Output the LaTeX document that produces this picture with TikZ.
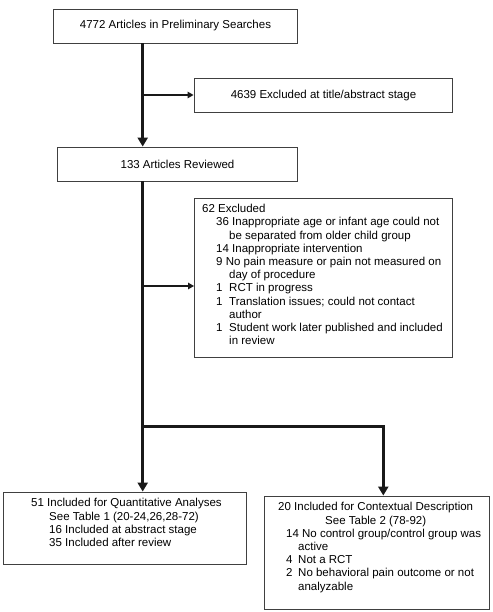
\documentclass[tikz,border=0pt]{standalone}
\usepackage{fontspec}
\setmainfont{Liberation Sans}
\usetikzlibrary{arrows.meta}
\begin{document}
\begin{tikzpicture}[x=1pt,y=-1pt,
  box/.style={draw=black!75,line width=0.9pt,inner sep=0pt},
  txt/.style={inner sep=0pt,align=left,font=\fontsize{11.5}{13.2}\selectfont},
  ctxt/.style={inner sep=0pt,align=center,font=\fontsize{11.5}{13.2}\selectfont},
  trunk/.style={line width=2.8pt,color=black!90},
  bigtip/.style={-{Triangle[width=10pt,length=9pt]}},
  branch/.style={line width=1.3pt,color=black!90,-{Triangle[width=6.5pt,length=6pt]}}]
\useasboundingbox[fill=white] (0,0) rectangle (492,612);
% boxes
\node[box,minimum width=244pt,minimum height=34pt] (b1) at (175,26) {};
\node[ctxt] (b1t) at (175.5,26) {4772 Articles in Preliminary Searches};
\node[box,minimum width=258pt,minimum height=34pt] (b2) at (323,95) {};
\node[ctxt] (b2t) at (323.5,95.5) {4639 Excluded at title/abstract stage};
\node[box,minimum width=240pt,minimum height=34pt] (b3) at (177,164) {};
\node[ctxt] (b3t) at (177.5,164.5) {133 Articles Reviewed};
\node[box,minimum width=258pt,minimum height=159pt] (b4) at (323,277.5) {};
\node[txt,anchor=north west] (b4t) at (202,204.2) {62 Excluded\\
\hspace*{14pt}36 Inappropriate age or infant age could not\\
\hspace*{27pt}be separated from older child group\\
\hspace*{14pt}14 Inappropriate intervention\\
\hspace*{14pt}9 No pain measure or pain not measured on\\
\hspace*{27pt}day of procedure\\
\hspace*{14pt}\makebox[13pt][l]{1}RCT in progress\\
\hspace*{14pt}\makebox[13pt][l]{1}Translation issues; could not contact\\
\hspace*{27pt}author\\
\hspace*{14pt}\makebox[13pt][l]{1}Student work later published and included\\
\hspace*{27pt}in review};
\node[box,minimum width=243pt,minimum height=72pt] (b5) at (124.5,528) {};
\node[txt,anchor=north west] (b5t) at (31,498.4) {51 Included for Quantitative Analyses\\
\hspace*{18pt}See Table 1 (20-24,26,28-72)\\
\hspace*{18pt}16 Included at abstract stage\\
\hspace*{18pt}35 Included after review};
\node[box,minimum width=225pt,minimum height=113pt] (b6) at (376.5,552.5) {};
\node[txt,anchor=north west] (b6t) at (278,502.4) {20 Included for Contextual Description\\
\hspace*{47pt}See Table 2 (78-92)\\
\hspace*{8pt}14 No control group/control group was\\
\hspace*{20pt}active\\
\hspace*{8pt}\makebox[12pt][l]{4}Not a RCT\\
\hspace*{8pt}\makebox[12pt][l]{2}No behavioral pain outcome or not\\
\hspace*{20pt}analyzable};
% connectors
\coordinate (t) at (142.7,0);
\coordinate (s) at (383.3,426.7);
\coordinate (j) at (142.7,426.7);
\coordinate (e4) at (194,286);
\draw[trunk,bigtip] (b1.south -| t) -- (b3.north -| t);
\draw[branch] (t |- b2.west) -- (b2.west);
\draw[trunk] (b3.south -| t) -- (j);
\draw[branch] (t |- e4) -- (e4);
\draw[trunk,bigtip] (j) -- (b5.north -| t);
\draw[trunk,bigtip] ([xshift=-1.4pt]j) -- (s) -- (b6.north -| s);
\end{tikzpicture}
\end{document}
